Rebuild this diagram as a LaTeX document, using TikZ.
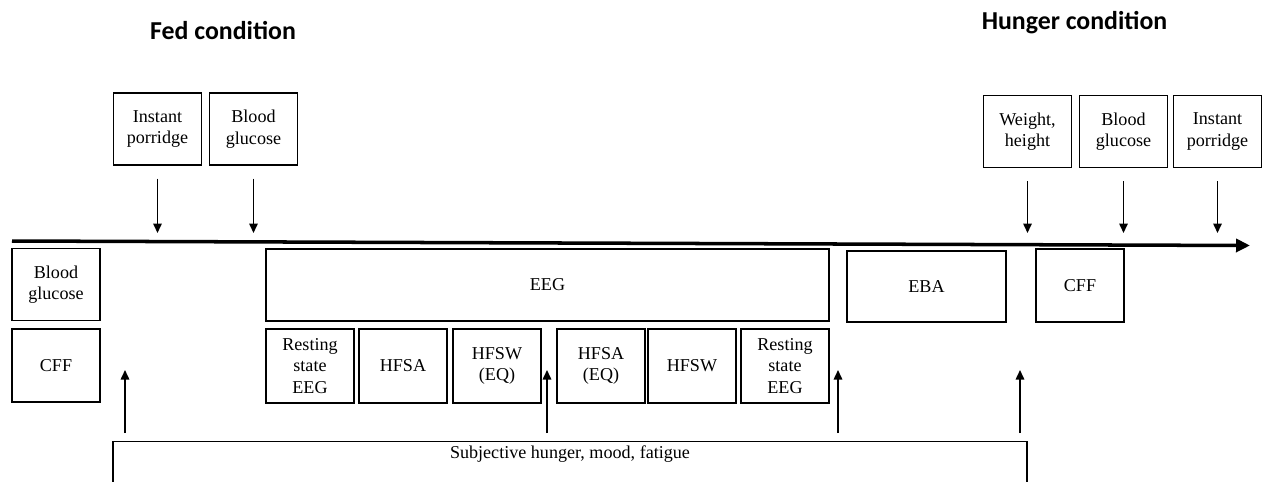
\documentclass[tikz,border=0pt]{standalone}
\usepackage{fontspec}
\setmainfont{Liberation Serif}
\newfontfamily\titlefont{Carlito}
\usetikzlibrary{arrows.meta}

\tikzset{
  stagebox/.style={draw, line width=0.8pt, align=center, inner sep=0pt,
    minimum width=1.76cm, minimum height=1.44cm, font=\fontsize{10.3}{12.2}\selectfont},
  title/.style={anchor=base, font=\titlefont\bfseries\fontsize{14.7}{17}\selectfont},
  downarrow/.style={-{Triangle[length=0.19cm,width=0.17cm]}, line width=0.9pt,
    shorten <=0.26cm, shorten >=0.16cm},
  uparrow/.style={-{Triangle[length=0.19cm,width=0.17cm]}, line width=0.9pt,
    shorten <=0.16cm},
  timeline/.style={-{Triangle[length=0.28cm,width=0.26cm]}, line width=2pt}
}

\begin{document}
\begin{tikzpicture}[x=0.02cm, y=-0.02cm]
  \clip (0,0) rectangle (1264,481);

  \node[title] (fed) at (223,39) {Fed condition};
  \node[title] (hunger) at (1074.5,29) {Hunger condition};

  \node[stagebox] (porridge1) at (157.5,129) {Instant\\porridge};
  \node[stagebox] (glucose1) at (253.5,129) {Blood\\glucose};
  \node[stagebox] (weight) at (1027.5,131.5) {Weight,\\height};
  \node[stagebox] (glucose3) at (1123.5,131.5) {Blood\\glucose};
  \node[stagebox] (porridge2) at (1217.5,131.5) {Instant\\porridge};

  \coordinate (tl-start) at (12,241);
  \coordinate (tl-end) at (1250,245.5);
  \draw[timeline] (tl-start) -- (tl-end);

  \draw[downarrow] (porridge1.south) -- (porridge1.south |- tl-start);
  \draw[downarrow] (glucose1.south) -- (glucose1.south |- tl-start);
  \draw[downarrow] (weight.south) -- (weight.south |- tl-start);
  \draw[downarrow] (glucose3.south) -- (glucose3.south |- tl-start);
  \draw[downarrow] (porridge2.south) -- (porridge2.south |- tl-start);

  \node[stagebox] (glucose2) at (56,284.5) {Blood\\glucose};
  \node[stagebox, minimum height=1.46cm] (cff1) at (56,365.5) {CFF};

  \node[stagebox, minimum width=11.26cm] (eeg) at (547.5,285) {EEG};
  \node[stagebox, minimum height=1.48cm] (rest1) at (310,366) {Resting\\state\\EEG};
  \node[stagebox, minimum height=1.48cm] (hfsa1) at (403,366) {HFSA};
  \node[stagebox, minimum height=1.48cm] (hfsw1) at (497,366) {HFSW\\(EQ)};
  \node[stagebox, minimum height=1.48cm] (hfsa2) at (601,366) {HFSA\\(EQ)};
  \node[stagebox, minimum height=1.48cm] (hfsw2) at (692,366) {HFSW};
  \node[stagebox, minimum height=1.48cm] (rest2) at (785,366) {Resting\\state\\EEG};

  \node[stagebox, minimum width=3.18cm, minimum height=1.42cm] (eba) at (926.5,286.5) {EBA};
  \node[stagebox, minimum height=1.46cm] (cff2) at (1080,285.5) {CFF};

  \node[stagebox, anchor=north, minimum width=18.28cm, minimum height=0pt,
    text height=7pt, text depth=40pt, inner ysep=2.6pt] (rating) at (570,441)
    {Subjective hunger, mood, fatigue};

  \coordinate (up1) at (125,370);
  \coordinate (up2) at (547,370);
  \coordinate (up3) at (838,370);
  \coordinate (up4) at (1020,370);
  \draw[uparrow] (rating.north -| up1) -- (up1);
  \draw[uparrow] (rating.north -| up2) -- (up2);
  \draw[uparrow] (rating.north -| up3) -- (up3);
  \draw[uparrow] (rating.north -| up4) -- (up4);
\end{tikzpicture}
\end{document}
